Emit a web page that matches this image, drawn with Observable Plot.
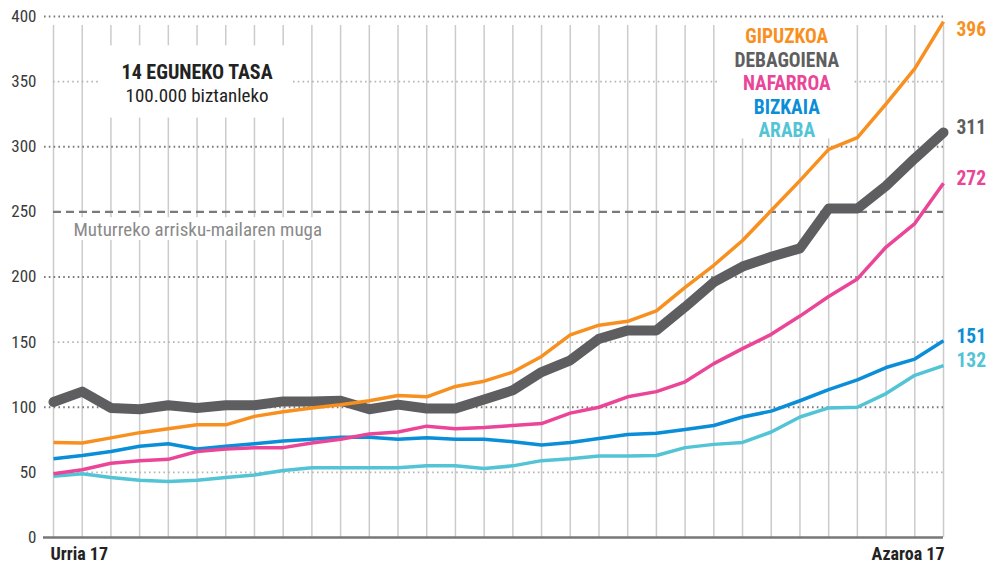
<!DOCTYPE html>
<html><head><meta charset="utf-8">
<script src="https://cdn.jsdelivr.net/npm/d3@7"></script>
<script src="https://cdn.jsdelivr.net/npm/@observablehq/plot@0.6"></script>
<style>
body{margin:0;background:#fff;}
#chart svg{display:block;}
</style></head><body><div id="chart"></div>
<script>
// ---- data ----
const startDay = new Date(Date.UTC(2020, 9, 17));
const days = d3.range(32).map(i => d3.utcDay.offset(startDay, i));
const firstLabel = "Urria 17";
const lastLabel = "Azaroa 17";
const yTicks = [0, 50, 100, 150, 200, 250, 300, 350, 400];
const threshold = 250;
const thresholdLabel = "Muturreko arrisku-mailaren muga";
const titleLine1 = "14 EGUNEKO TASA";
const titleLine2 = "100.000 biztanleko";

const names = ["GIPUZKOA", "DEBAGOIENA", "NAFARROA", "BIZKAIA", "ARABA"];
const gipuzkoa = [73, 72.5, 76.5, 80.5, 83.5, 86.5, 86.5, 93, 96.5, 99.5, 102, 105, 109, 108, 116, 120, 127, 139, 155.5, 163, 166, 174, 192, 209, 228, 251, 274, 298, 307, 333, 360, 396];
const debagoiena = [104, 112, 99.5, 98.5, 101.5, 99.5, 101.5, 101.5, 104.5, 104.5, 105, 98.5, 102, 99, 99, 106, 113, 127, 136, 152.5, 159, 159, 177, 196, 208, 215.5, 222, 252.5, 252.5, 270, 291, 311];
const nafarroa = [49, 52, 57, 59, 60, 66, 68, 69, 69, 72.5, 75.5, 79.5, 81, 85.5, 83.5, 84.5, 86, 87.5, 95.5, 100, 108, 112, 119.5, 133.5, 145, 156, 170, 185, 198.5, 223, 241, 272];
const bizkaia = [60.5, 63, 66, 70, 72, 68, 70, 72, 74, 75.5, 77, 77, 75.5, 76.5, 75.5, 75.5, 73.5, 71, 73, 76, 79, 80, 83, 86, 92.5, 97, 105, 113.5, 121, 130.5, 137, 151];
const araba = [47, 49, 46, 44, 43, 44, 46, 48, 51.5, 53.5, 53.5, 53.5, 53.5, 55, 55, 53, 55, 59, 60.5, 62.5, 62.5, 63, 69, 71.5, 73, 81, 92.5, 99.5, 100, 110.5, 124.5, 132];
const valuesByName = {GIPUZKOA: gipuzkoa, DEBAGOIENA: debagoiena, NAFARROA: nafarroa, BIZKAIA: bizkaia, ARABA: araba};

// ---- styles ----
const colors = {GIPUZKOA: "#F7901E", DEBAGOIENA: "#5E5E60", NAFARROA: "#EA4597", BIZKAIA: "#0A8ED8", ARABA: "#52C4D6"};
const widths = {GIPUZKOA: 3.5, DEBAGOIENA: 10, NAFARROA: 3.5, BIZKAIA: 3.5, ARABA: 3.5};
const endLabelDy = {GIPUZKOA: 8, DEBAGOIENA: -5, NAFARROA: -4.5, BIZKAIA: -3.8, ARABA: -5.2};
const drawOrder = ["DEBAGOIENA", "ARABA", "BIZKAIA", "NAFARROA", "GIPUZKOA"];
const COND = '"Liberation Sans Narrow","Arial Narrow","Roboto Condensed","DejaVu Sans Condensed",Roboto,sans-serif';

const rows = names.flatMap(n => valuesByName[n].map((v, i) => ({name: n, date: days[i], value: v})));
const last = days[days.length - 1];
const endRows = names.map(n => ({name: n, date: last, value: valuesByName[n][valuesByName[n].length - 1]}));
const h = (d, hrs) => d3.utcHour.offset(d, hrs);

const majors = yTicks.filter(v => v % 100 === 0 && v > 0);
const minors = yTicks.filter(v => v % 100 !== 0 && v !== threshold);

const chart = Plot.plot({
  width: 991, height: 565,
  marginLeft: 53, marginRight: 48, marginTop: 16, marginBottom: 28,
  style: {fontFamily: COND, background: "#fff"},
  x: {type: "utc", domain: [days[0], last], label: null},
  y: {domain: [0, 400], label: null},
  marks: [
    Plot.ruleX(days, {x: d => d, y1: 0, y2: 400, insetBottom: -9, stroke: "#cbcbcb", strokeWidth: 1.5}),
    Plot.ruleY(majors, {y: d => d, x1: days[0], x2: last, insetLeft: -9, stroke: "#7a7a7a", strokeWidth: 1.8, strokeDasharray: "1.6,3.2"}),
    Plot.ruleY(minors, {y: d => d, x1: days[0], x2: last, stroke: "#b5b5b5", strokeWidth: 1.8, strokeDasharray: "1.6,3.2"}),
    Plot.ruleY([threshold], {y: d => d, x1: days[0], x2: last, stroke: "#7a7a7a", strokeWidth: 2.2, strokeDasharray: "8,5"}),
    // white backing boxes for annotations
    Plot.rect([0], {x1: h(days[1], 15), x2: h(days[8], 8), y1: 322, y2: 377.5, fill: "#fff"}),
    Plot.rect([0], {x1: h(days[0], 12), x2: h(days[9], 15), y1: 228, y2: 245.5, fill: "#fff"}),
    Plot.rect([0], {x1: h(days[23], 5), x2: h(days[27], 20), y1: 306, y2: 397, fill: "#fff"}),
    Plot.ruleY([0], {y: d => d, x1: days[0], x2: last, insetLeft: -10, stroke: "#777", strokeWidth: 2.5}),
    Plot.axisY(yTicks, {tickSize: 0, tickPadding: 17, fontSize: 17, fill: "#3a3a3a", tickFormat: d => d}),
    Plot.axisX([days[0]], {tickSize: 0, tickPadding: 10, fontSize: 18, fontWeight: "bold", fill: "#222", textAnchor: "start", dx: -3, tickFormat: () => firstLabel}),
    Plot.axisX([last], {tickSize: 0, tickPadding: 10, fontSize: 18, fontWeight: "bold", fill: "#222", textAnchor: "end", dx: 1, tickFormat: () => lastLabel}),
    // annotations
    Plot.text([titleLine1], {x: days[5], y: 357, text: d => d, fontSize: 20, fontWeight: "bold", fill: "#222"}),
    Plot.text([titleLine2], {x: days[5], y: 339, text: d => d, fontSize: 19, fill: "#222"}),
    Plot.text([thresholdLabel], {x: days[0], y: 236.5, dx: 20, text: d => d, textAnchor: "start", fontSize: 19, fill: "#8a8a8a"}),
    Plot.text(names, {x: h(days[25], 13), y: (d, i) => 384.5 - i * 18.1, text: d => d, fill: d => colors[d], fontSize: 19.5, fontWeight: "bold"}),
    // lines
    ...drawOrder.map(n => Plot.line(rows.filter(r => r.name === n), {x: "date", y: "value", stroke: colors[n], strokeWidth: widths[n], strokeLinejoin: "round", strokeLinecap: n === "DEBAGOIENA" ? "round" : "butt"})),
    ...endRows.map(r => Plot.text([r], {x: "date", y: "value", text: d => d3.format("d")(d.value), dx: 13, dy: endLabelDy[r.name], textAnchor: "start", fill: colors[r.name], fontSize: 19.5, fontWeight: "bold"}))
  ]
});
document.getElementById("chart").appendChild(chart);
</script>
</body></html>
